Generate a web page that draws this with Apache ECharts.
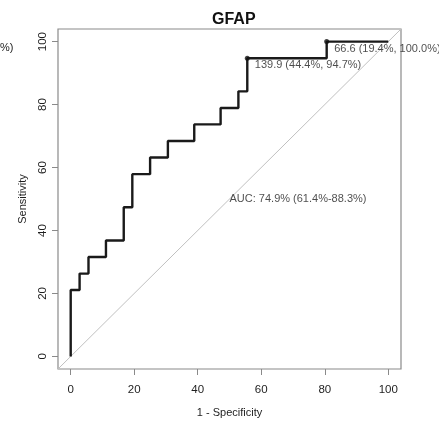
<!DOCTYPE html>
<html>
<head>
<meta charset="utf-8">
<script src="https://cdn.jsdelivr.net/npm/echarts@6/dist/echarts.min.js"></script>
<style>
  html, body { margin: 0; padding: 0; background: #fff; }
  #chart { width: 439px; height: 423px; }
</style>
</head>
<body>
<div id="chart"></div>
<script>
// ROC curve steps (1 - specificity, sensitivity), in percent
const fpr = [0, 0, 2.8, 5.6, 11.1, 16.7, 19.4, 25.0, 30.6, 38.9, 47.2, 52.8, 55.6, 80.6, 100];
const tpr = [0, 21.1, 26.3, 31.6, 36.8, 47.4, 57.9, 63.2, 68.4, 73.7, 78.9, 84.2, 94.7, 100, 100];

// highlighted thresholds
const cutX = [55.6, 80.6];
const cutY = [94.7, 100];
const cutLabels = ['139.9 (44.4%, 94.7%)', '66.6 (19.4%, 100.0%)'];

const tickValues = [0, 20, 40, 60, 80, 100];
const aucText = 'AUC: 74.9% (61.4%-88.3%)';
const aucPos = [50, 50];

const font = 'Liberation Sans, Arial, Helvetica, sans-serif';
const boxColor = '#8a8a8a';
const textColor = '#1e1e1e';

const chart = echarts.init(document.getElementById('chart'));

const axisCommon = {
  type: 'value',
  min: -4,
  max: 104,
  axisLine: { show: false, onZero: false },
  splitLine: { show: false },
  axisTick: { show: true, inside: false, length: 6, customValues: tickValues,
    lineStyle: { color: boxColor, width: 1 } },
  axisLabel: { customValues: tickValues, color: textColor, fontSize: 11.5, fontFamily: font },
  nameLocation: 'middle',
  nameTextStyle: { color: textColor, fontSize: 11, fontFamily: font }
};

chart.setOption({
  backgroundColor: '#fff',
  animation: false,
  title: {
    text: 'GFAP',
    left: 207,
    top: 7,
    textStyle: { fontSize: 16, fontWeight: 'bold', color: '#111', fontFamily: font }
  },
  graphic: [{
    type: 'text',
    left: 0,
    top: 42,
    style: { text: '%)', fontSize: 11, fill: textColor, fontFamily: font }
  }],
  grid: {
    left: 58, right: 38, top: 29, bottom: 51,
    show: true, borderColor: boxColor, borderWidth: 1.2, backgroundColor: 'transparent'
  },
  xAxis: Object.assign({}, axisCommon, {
    name: '1 - Specificity',
    nameGap: 38,
    axisLabel: Object.assign({}, axisCommon.axisLabel, { margin: 15 })
  }),
  yAxis: Object.assign({}, axisCommon, {
    name: 'Sensitivity',
    nameGap: 30,
    axisLabel: Object.assign({}, axisCommon.axisLabel, { rotate: 90, margin: 9 })
  }),
  series: [
    {
      type: 'line',
      data: [[-4, -4], [104, 104]],
      showSymbol: false,
      silent: true,
      lineStyle: { color: '#c0c0c0', width: 1 },
      z: 1
    },
    {
      type: 'line',
      step: 'end',
      data: fpr.map((x, i) => [x, tpr[i]]),
      showSymbol: false,
      lineStyle: { color: '#1a1a1a', width: 2.4 },
      z: 2
    },
    {
      type: 'scatter',
      data: cutX.map((x, i) => [x, cutY[i], cutLabels[i]]),
      symbolSize: 5,
      itemStyle: { color: '#111' },
      label: {
        show: true,
        position: 'right',
        distance: 5,
        offset: [0, 7],
        formatter: p => p.data[2],
        color: textColor,
        fontSize: 11,
        fontFamily: font
      },
      z: 3
    },
    {
      type: 'scatter',
      data: [[aucPos[0], aucPos[1], aucText]],
      symbolSize: 0,
      label: {
        show: true,
        position: 'right',
        distance: 0,
        formatter: p => p.data[2],
        color: textColor,
        fontSize: 11,
        fontFamily: font
      },
      z: 3
    }
  ]
});
</script>
</body>
</html>
